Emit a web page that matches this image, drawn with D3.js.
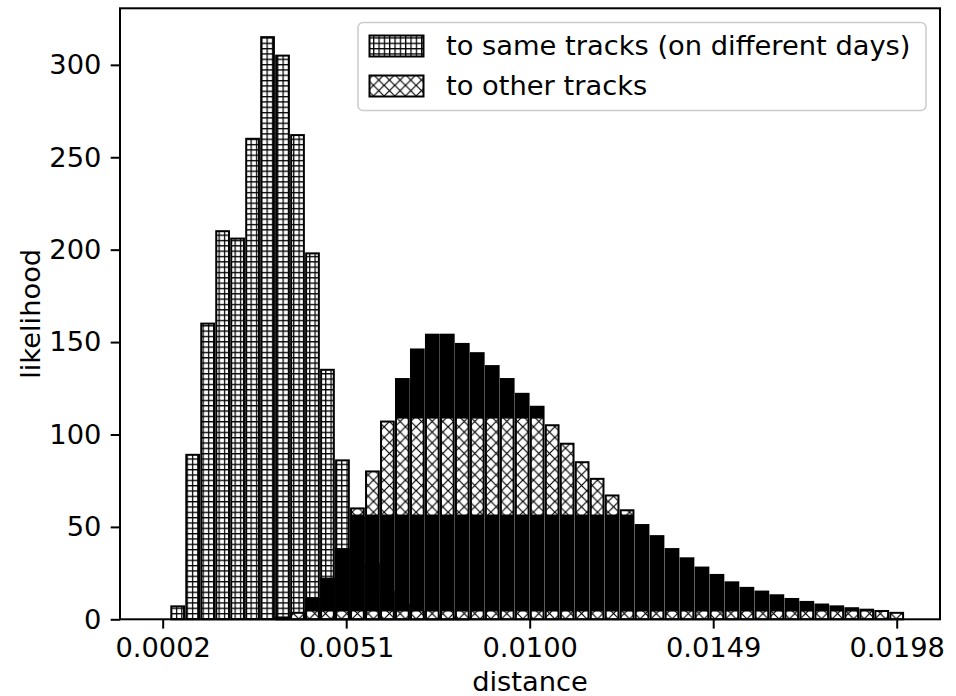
<!DOCTYPE html>
<html>
<head>
<meta charset="utf-8">
<script src="https://cdn.jsdelivr.net/npm/d3@7"></script>
<style>
    body { margin: 0; background: #fff; }
    svg text { font-family: "DejaVu Sans", sans-serif; fill: #000; }
</style>
</head>
<body>
<div id="graph"></div>
<script>
// histogram bins (centres) and counts
const binCenters = [0.0002, 0.0006, 0.0010, 0.0014, 0.0018, 0.0022, 0.0026, 0.0030, 0.0034, 0.0038,
    0.0042, 0.0046, 0.0050, 0.0054, 0.0058, 0.0062, 0.0066, 0.0070, 0.0074, 0.0078,
    0.0082, 0.0086, 0.0090, 0.0094, 0.0098, 0.0102, 0.0106, 0.0110, 0.0114, 0.0118,
    0.0122, 0.0126, 0.0130, 0.0134, 0.0138, 0.0142, 0.0146, 0.0150, 0.0154, 0.0158,
    0.0162, 0.0166, 0.0170, 0.0174, 0.0178, 0.0182, 0.0186, 0.0190, 0.0194, 0.0198];

const sameTracks = [0, 7, 89, 160, 210, 206, 260, 315, 305, 262,
    198, 135, 86, 55, 30, 15, 8, 4, 2, 1,
    1, 0, 0, 0, 0, 0, 0, 0, 0, 0,
    0, 0, 0, 0, 0, 0, 0, 0, 0, 0,
    0, 0, 0, 0, 0, 0, 0, 0, 0, 0];

const otherTracks = [0, 0, 0, 0, 0, 0, 0, 0, 1, 3.5,
    11, 22, 38, 60, 80, 107, 130, 146, 154, 154,
    149, 144, 137, 130, 122, 115, 105, 95, 85, 76,
    67, 59, 51, 45, 38, 33, 28, 24, 20, 17,
    15, 13, 11, 9.4, 8, 7, 6, 5.2, 4.5, 3.5];

const xTickValues = [0.0002, 0.0051, 0.0100, 0.0149, 0.0198];
const yTickValues = [0, 50, 100, 150, 200, 250, 300];
const legendLabels = ["to same tracks (on different days)", "to other tracks"];

// the dense cross hatch comes out solid black in these bands (value units)
const blackBands = [[4.2, 56.7], [108.6, 400]];

const width = 956, height = 696;
const plot = {left: 120, right: 940, top: 8.3, bottom: 619.3};
const fontSize = 27.3;
const tickLen = 9.3;

const svg = d3.select("#graph")
    .append("svg")
    .attr("width", width)
    .attr("height", height);

// hatch patterns
const defs = svg.append("defs");

const grid = defs.append("pattern")
    .attr("id", "gridHatch")
    .attr("patternUnits", "userSpaceOnUse")
    .attr("width", 5.33)
    .attr("height", 5.33);
grid.append("rect").attr("width", 5.33).attr("height", 5.33).attr("fill", "#fff");
grid.append("path")
    .attr("d", "M0,0.6H5.33M0.6,0V5.33")
    .attr("stroke", "#000")
    .attr("stroke-width", 1.3);

const cross = defs.append("pattern")
    .attr("id", "crossHatch")
    .attr("patternUnits", "userSpaceOnUse")
    .attr("width", 10.67)
    .attr("height", 10.67);
cross.append("rect").attr("width", 10.67).attr("height", 10.67).attr("fill", "#fff");
cross.append("path")
    .attr("d", "M0,0L10.67,10.67M10.67,0L0,10.67")
    .attr("stroke", "#000")
    .attr("stroke-width", 1.2);

const x = d3.scaleLinear()
    .domain([-0.00094, 0.020956])
    .range([plot.left, plot.right]);

const y = d3.scaleLinear()
    .domain([0, 330.6])
    .range([plot.bottom, plot.top]);

const barW = x(0.00034) - x(0);

const bins = binCenters.map((c, i) => ({c: c, same: sameTracks[i], other: otherTracks[i]}));

// "same tracks" bars
const sameG = svg.append("g");
sameG.selectAll("rect")
    .data(bins)
    .enter()
    .append("rect")
    .attr("x", d => x(d.c) - barW / 2)
    .attr("y", d => y(d.same))
    .attr("width", barW)
    .attr("height", d => y(0) - y(d.same))
    .attr("fill", "url(#gridHatch)")
    .attr("stroke", "#000")
    .attr("stroke-width", 2);

// "other tracks" bars, drawn on top
const otherBins = bins.filter(d => d.other > 0);
const otherG = svg.append("g");
otherG.selectAll("rect.face")
    .data(otherBins)
    .enter()
    .append("rect")
    .attr("class", "face")
    .attr("x", d => x(d.c) - barW / 2)
    .attr("y", d => y(d.other))
    .attr("width", barW)
    .attr("height", d => y(0) - y(d.other))
    .attr("fill", "url(#crossHatch)");

blackBands.forEach(function (band) {
    otherG.selectAll(null)
        .data(otherBins.filter(d => d.other > band[0]))
        .enter()
        .append("rect")
        .attr("x", d => x(d.c) - barW / 2)
        .attr("y", d => y(Math.min(d.other, band[1])))
        .attr("width", barW)
        .attr("height", d => y(band[0]) - y(Math.min(d.other, band[1])))
        .attr("fill", "#000");
});

otherG.selectAll("rect.edge")
    .data(otherBins)
    .enter()
    .append("rect")
    .attr("class", "edge")
    .attr("x", d => x(d.c) - barW / 2)
    .attr("y", d => y(d.other))
    .attr("width", barW)
    .attr("height", d => y(0) - y(d.other))
    .attr("fill", "none")
    .attr("stroke", "#000")
    .attr("stroke-width", 2);

// axes
const xAxis = svg.append("g")
    .attr("transform", "translate(0," + plot.bottom + ")")
    .call(d3.axisBottom(x).tickValues(xTickValues).tickFormat(d3.format(".4f"))
        .tickSize(tickLen).tickPadding(9.3).tickSizeOuter(0));
const yAxis = svg.append("g")
    .attr("transform", "translate(" + plot.left + ",0)")
    .call(d3.axisLeft(y).tickValues(yTickValues)
        .tickSize(tickLen).tickPadding(9.3).tickSizeOuter(0));

[xAxis, yAxis].forEach(function (a) {
    a.select(".domain").remove();
    a.selectAll("line").attr("stroke", "#000").attr("stroke-width", 2);
    a.selectAll("text").style("font-size", fontSize + "px").attr("fill", "#000");
});

// spines
svg.append("rect")
    .attr("x", plot.left)
    .attr("y", plot.top)
    .attr("width", plot.right - plot.left)
    .attr("height", plot.bottom - plot.top)
    .attr("fill", "none")
    .attr("stroke", "#000")
    .attr("stroke-width", 2);

svg.append("text")
    .attr("x", (plot.left + plot.right) / 2)
    .attr("y", 691)
    .attr("text-anchor", "middle")
    .style("font-size", fontSize + "px")
    .text("distance");

svg.append("text")
    .attr("transform", "translate(40," + ((plot.top + plot.bottom) / 2) + ")rotate(-90)")
    .attr("text-anchor", "middle")
    .style("font-size", fontSize + "px")
    .text("likelihood");

// legend
const legend = svg.append("g");
legend.append("rect")
    .attr("x", 358)
    .attr("y", 22.5)
    .attr("width", 568)
    .attr("height", 88)
    .attr("rx", 5)
    .attr("fill", "#fff")
    .attr("fill-opacity", 0.8)
    .attr("stroke", "#ccc")
    .attr("stroke-width", 1.5);

const legendFills = ["url(#gridHatch)", "url(#crossHatch)"];
legendLabels.forEach(function (label, i) {
    legend.append("rect")
        .attr("x", 369.5)
        .attr("y", 35.5 + i * 40)
        .attr("width", 54)
        .attr("height", 21)
        .attr("fill", legendFills[i])
        .attr("stroke", "#000")
        .attr("stroke-width", 2);
    legend.append("text")
        .attr("x", 446)
        .attr("y", 55 + i * 40)
        .style("font-size", fontSize + "px")
        .text(label);
});
</script>
</body>
</html>
